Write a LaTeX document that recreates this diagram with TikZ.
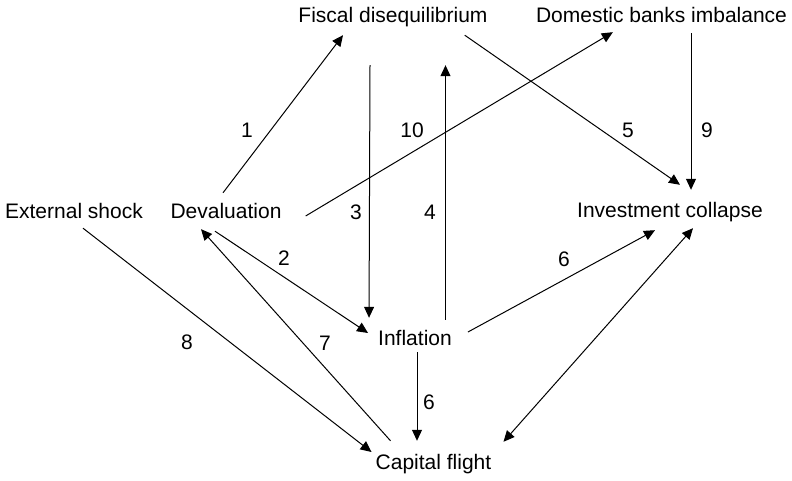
\documentclass[tikz,border=0pt]{standalone}
\usepackage{fontspec}
\setmainfont{Liberation Sans}
\usetikzlibrary{arrows.meta}
\tikzset{>={Triangle[length=11pt,width=10pt]},every node/.style={font=\fontsize{21}{25}\selectfont,
 inner sep=0pt},concept/.style={anchor=base,text height=15pt,text depth=4pt},
 num/.style={anchor=center},every edge/.style={draw=black,line width=1pt,->}}

\begin{document}
\begin{tikzpicture}[x=1pt,y=1pt]
\useasboundingbox (0,0) rectangle (792,481);
% factors
\node[concept] (fiscal) at (393,458) {Fiscal disequilibrium};
\node[concept] (banks) at (661.5,458) {Domestic banks imbalance};
\node[concept] (shock) at (74,262) {External shock};
\node[concept] (deval) at (226,262) {Devaluation};
\node[concept] (invest) at (670,263) {Investment collapse};
\node[concept] (infl) at (415,135) {Inflation};
\node[concept] (flight) at (433.5,11) {Capital flight};
% links
\path ([shift={(-3,11)}]deval.north) edge ([shift={(-50,-8)}]fiscal.south)
 ([shift={(24,-2.5)}]deval.east) edge ([shift={(77,-5)}]banks.south west)
 ([shift={(-23,-38)}]fiscal.south) edge ([shift={(-9,13)}]infl.north west)
 ([shift={(30.5,11)}]infl.north) edge ([shift={(52.5,-38)}]fiscal.south)
 ([shift={(-23,-8)}]fiscal.south east) edge ([shift={(10,18)}]invest.north)
 ([shift={(29.5,-6)}]banks.south) edge ([shift={(21,13)}]invest.north)
 ([shift={(-11,-8)}]deval.south) edge ([shift={(-10,7.5)}]infl.west)
 ([shift={(15,14)}]flight.north west) edge ([shift={(-25,-6)}]deval.south)
 ([shift={(9,-5)}]shock.south) edge ([shift={(-4,12.5)}]flight.west)
 ([shift={(16,8.5)}]infl.east) edge ([shift={(78,-8)}]invest.south west)
 ([shift={(2,-2)}]infl.south) edge ([shift={(-16.5,14)}]flight.north)
 ([shift={(23,-6)}]invest.south) edge[<->] ([shift={(12,13)}]flight.north east);
% link numbers
\node[num] (n1) at (247,351) {1};
\node[num] (n10) at (412,351) {10};
\node[num] (n5) at (628,351) {5};
\node[num] (n9) at (707,351) {9};
\node[num] (n3) at (356,269) {3};
\node[num] (n4) at (430,269) {4};
\node[num] (n2) at (284,223) {2};
\node[num] (n6a) at (564,222) {6};
\node[num] (n8) at (187,139) {8};
\node[num] (n7) at (325,138) {7};
\node[num] (n6b) at (429,79) {6};
\end{tikzpicture}
\end{document}
